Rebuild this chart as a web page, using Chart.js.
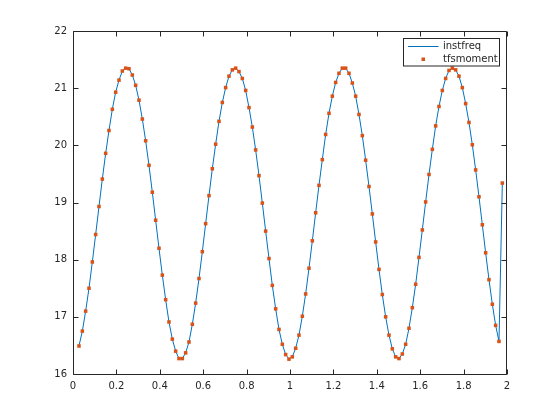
<!DOCTYPE html>
<html>
<head>
<meta charset="utf-8">
<script src="https://cdn.jsdelivr.net/npm/chart.js@4/dist/chart.umd.min.js"></script>
<style>
  html, body { margin: 0; padding: 0; background: #ffffff; }
  #wrap { width: 560px; height: 420px; position: relative; }
</style>
</head>
<body>
<div id="wrap"><canvas id="c" width="560" height="420"></canvas></div>
<script>
// ---- data ----
const times = [
  0.0276, 0.0430, 0.0583, 0.0737, 0.0890, 0.1044, 0.1198, 0.1351, 0.1505, 0.1658,
  0.1812, 0.1966, 0.2119, 0.2273, 0.2427, 0.2580, 0.2734, 0.2887, 0.3041, 0.3195,
  0.3348, 0.3502, 0.3655, 0.3809, 0.3963, 0.4116, 0.4270, 0.4423, 0.4577, 0.4731,
  0.4884, 0.5038, 0.5192, 0.5345, 0.5499, 0.5652, 0.5806, 0.5960, 0.6113, 0.6267,
  0.6420, 0.6574, 0.6728, 0.6881, 0.7035, 0.7188, 0.7342, 0.7496, 0.7649, 0.7803,
  0.7957, 0.8110, 0.8264, 0.8417, 0.8571, 0.8725, 0.8878, 0.9032, 0.9185, 0.9339,
  0.9493, 0.9646, 0.9800, 0.9953, 1.0107, 1.0261, 1.0414, 1.0568, 1.0721, 1.0875,
  1.1029, 1.1182, 1.1336, 1.1489, 1.1643, 1.1797, 1.1950, 1.2104, 1.2257, 1.2411,
  1.2565, 1.2718, 1.2872, 1.3026, 1.3179, 1.3333, 1.3486, 1.3640, 1.3794, 1.3947,
  1.4101, 1.4254, 1.4408, 1.4562, 1.4715, 1.4869, 1.5022, 1.5176, 1.5330, 1.5483,
  1.5637, 1.5791, 1.5944, 1.6098, 1.6251, 1.6405, 1.6559, 1.6712, 1.6866, 1.7019,
  1.7173, 1.7327, 1.7480, 1.7634, 1.7787, 1.7941, 1.8095, 1.8248, 1.8402, 1.8556,
  1.8709, 1.8863, 1.9016, 1.9170, 1.9324, 1.9477, 1.9631, 1.9785
];

const instfreq = [
  16.49, 16.75, 17.10, 17.50, 17.96, 18.44, 18.93, 19.41, 19.86, 20.26,
  20.63, 20.93, 21.14, 21.30, 21.35, 21.34, 21.23, 21.05, 20.79, 20.46,
  20.08, 19.65, 19.18, 18.69, 18.20, 17.73, 17.30, 16.91, 16.61, 16.40,
  16.27, 16.27, 16.37, 16.56, 16.87, 17.24, 17.67, 18.14, 18.63, 19.12,
  19.59, 20.02, 20.42, 20.75, 21.01, 21.21, 21.32, 21.35, 21.29, 21.17,
  20.96, 20.66, 20.32, 19.92, 19.47, 18.99, 18.50, 18.02, 17.55, 17.14,
  16.78, 16.52, 16.34, 16.26, 16.30, 16.45, 16.68, 17.01, 17.40, 17.85,
  18.33, 18.82, 19.30, 19.75, 20.19, 20.56, 20.86, 21.10, 21.26, 21.35,
  21.35, 21.26, 21.09, 20.86, 20.54, 20.17, 19.74, 19.28, 18.80, 18.31,
  17.83, 17.39, 17.00, 16.68, 16.44, 16.30, 16.27, 16.35, 16.52, 16.80,
  17.16, 17.57, 18.04, 18.52, 19.01, 19.49, 19.93, 20.34, 20.68, 20.96,
  21.17, 21.31, 21.35, 21.32, 21.21, 21.01, 20.73, 20.40, 20.01, 19.57,
  19.10, 18.61, 18.12, 17.65, 17.22, 16.85, 16.57, 19.34
];

const tfsmoment = [
  16.49, 16.75, 17.10, 17.50, 17.96, 18.44, 18.93, 19.41, 19.86, 20.26,
  20.63, 20.93, 21.14, 21.30, 21.35, 21.34, 21.23, 21.05, 20.79, 20.46,
  20.08, 19.65, 19.18, 18.69, 18.20, 17.73, 17.30, 16.91, 16.61, 16.40,
  16.27, 16.27, 16.37, 16.56, 16.87, 17.24, 17.67, 18.14, 18.63, 19.12,
  19.59, 20.02, 20.42, 20.75, 21.01, 21.21, 21.32, 21.35, 21.29, 21.17,
  20.96, 20.66, 20.32, 19.92, 19.47, 18.99, 18.50, 18.02, 17.55, 17.14,
  16.78, 16.52, 16.34, 16.26, 16.30, 16.45, 16.68, 17.01, 17.40, 17.85,
  18.33, 18.82, 19.30, 19.75, 20.19, 20.56, 20.86, 21.10, 21.26, 21.35,
  21.35, 21.26, 21.09, 20.86, 20.54, 20.17, 19.74, 19.28, 18.80, 18.31,
  17.83, 17.39, 17.00, 16.68, 16.44, 16.30, 16.27, 16.35, 16.52, 16.80,
  17.16, 17.57, 18.04, 18.52, 19.01, 19.49, 19.93, 20.34, 20.68, 20.96,
  21.17, 21.31, 21.35, 21.32, 21.21, 21.01, 20.73, 20.40, 20.01, 19.57,
  19.10, 18.61, 18.12, 17.65, 17.22, 16.85, 16.57, 19.34
];

const seriesNames = ['instfreq', 'tfsmoment'];
const xTickLabels = ['0', '0.2', '0.4', '0.6', '0.8', '1', '1.2', '1.4', '1.6', '1.8', '2'];
const yTickLabels = ['16', '17', '18', '19', '20', '21', '22'];

// ---- styling ----
const AX = '#262626';
const BLUE = '#0072BD';
const ORANGE = '#D95319';
const FONT = 'DejaVu Sans, Liberation Sans, sans-serif';

const toPts = (ys) => ys.map((v, i) => ({ x: times[i], y: v }));

const boxTicks = {
  id: 'boxTicks',
  afterDatasetsDraw(chart) {
    const { ctx, chartArea: a, scales: { x, y } } = chart;
    const L = Math.round(a.left) + 0.5, R = Math.round(a.right) - 0.5;
    const T = Math.round(a.top) + 0.5, B = Math.round(a.bottom) + 0.5;
    const len = 5;
    ctx.save();
    ctx.strokeStyle = AX;
    ctx.lineWidth = 1;
    ctx.beginPath();
    ctx.rect(L, T, R - L, B - T);
    x.ticks.forEach(t => {
      const px = Math.round(x.getPixelForValue(t.value)) + 0.5;
      ctx.moveTo(px, B); ctx.lineTo(px, B - len);
      ctx.moveTo(px, T); ctx.lineTo(px, T + len);
    });
    y.ticks.forEach(t => {
      const py = Math.round(y.getPixelForValue(t.value)) + 0.5;
      ctx.moveTo(L, py); ctx.lineTo(L + len, py);
      ctx.moveTo(R, py); ctx.lineTo(R - len, py);
    });
    ctx.stroke();

    // legend box
    const lx = 403.5, ly = 38.5, lw = 96, lh = 27.5;
    ctx.fillStyle = '#ffffff';
    ctx.fillRect(lx, ly, lw, lh);
    ctx.strokeStyle = AX;
    ctx.strokeRect(lx, ly, lw, lh);
    // row 1: line
    ctx.strokeStyle = BLUE;
    ctx.beginPath();
    ctx.moveTo(408, 46.5); ctx.lineTo(438.5, 46.5);
    ctx.stroke();
    // row 2: marker
    ctx.fillStyle = ORANGE;
    ctx.fillRect(421.5, 57.5, 3.5, 3.5);
    ctx.fillStyle = AX;
    ctx.font = '10px ' + FONT;
    ctx.textBaseline = 'middle';
    ctx.textAlign = 'left';
    ctx.fillText(seriesNames[0], 443, 46.5);
    ctx.fillText(seriesNames[1], 443, 59.5);
    ctx.restore();
  }
};

new Chart(document.getElementById('c'), {
  type: 'line',
  data: {
    datasets: [
      {
        label: seriesNames[1],
        data: toPts(tfsmoment),
        showLine: false,
        pointStyle: 'rect',
        pointRadius: 2.5,
        pointBorderWidth: 0,
        pointBackgroundColor: ORANGE,
        pointBorderColor: ORANGE,
        order: 0
      },
      {
        label: seriesNames[0],
        data: toPts(instfreq),
        borderColor: BLUE,
        borderWidth: 1,
        pointRadius: 0,
        tension: 0,
        fill: false,
        order: 1
      }
    ]
  },
  options: {
    responsive: false,
    animation: false,
    events: [],
    layout: { padding: { left: 0, top: 31, right: 53, bottom: 0 } },
    plugins: { legend: { display: false }, tooltip: { enabled: false } },
    scales: {
      x: {
        type: 'linear',
        min: 0, max: 2,
        afterFit(s) { s.height = 46; },
        afterBuildTicks(s) { s.ticks = xTickLabels.map(v => ({ value: parseFloat(v) })); },
        ticks: {
          autoSkip: false, maxRotation: 0, padding: 6,
          color: AX, font: { family: FONT, size: 10 },
          callback: (v, i) => xTickLabels[i]
        },
        grid: { display: false, drawTicks: false },
        border: { display: false }
      },
      y: {
        type: 'linear',
        min: 16, max: 22,
        afterFit(s) { s.width = 73; },
        afterBuildTicks(s) { s.ticks = yTickLabels.map(v => ({ value: parseFloat(v) })); },
        ticks: {
          autoSkip: false, padding: 6,
          color: AX, font: { family: FONT, size: 10 },
          callback: (v, i) => yTickLabels[i]
        },
        grid: { display: false, drawTicks: false },
        border: { display: false }
      }
    }
  },
  plugins: [boxTicks]
});
</script>
</body>
</html>
